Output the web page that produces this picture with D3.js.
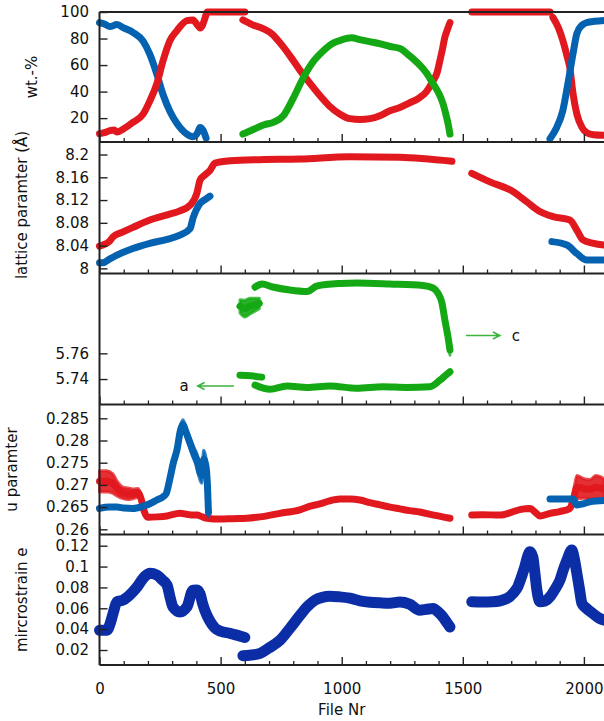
<!DOCTYPE html>
<html>
<head>
<meta charset="utf-8">
<script src="https://cdn.jsdelivr.net/npm/d3@7"></script>
<style>
  body { margin: 0; background: #fff; }
  text { font-family: "DejaVu Sans", Verdana, sans-serif; font-size: 15px; fill: #111; }
</style>
</head>
<body>
<div id="chart"></div>
<script>
// ---- data: [file nr, value, error] ----
var fileMajor = [0, 500, 1000, 1500, 2000];

// wt.-%
var wtBlue1 = [[0,92],[20,91],[43,89],[72,90.5],[100,88],[139,84.5],[180,78],[208,68],[237,53],[262,38],[291,25],[320,16],[361,8],[386,6],[405,9],[415,13],[427,11],[440,5]];
var wtRed1 = [[0,8.3],[20,9],[43,10.5],[60,11],[72,9.5],[100,12],[138,16.8],[180,23],[208,33],[237,46],[262,63],[291,78.5],[320,86],[361,93.5],[386,94],[405,90],[415,88],[425,90],[435,95],[445,100],[500,100],[560,100],[600,100]];
var wtRed2 = [[592,94],[630,90.5],[675,87.5],[715,83],[753,75],[790,66],[828,56],[870,46],[910,37],[950,29],[993,23],[1034,19.6],[1075,19],[1117,19.6],[1160,22],[1199,25.6],[1240,28],[1280,31.5],[1322,35.5],[1350,40],[1377,48],[1395,55],[1405,63],[1416,72],[1426,81],[1437,87],[1447,92]];
var wtRed3 = [[1537,100],[1650,100],[1760,100],[1860,100]];
var wtRed4 = [[1872,96],[1895,88],[1913,78.5],[1930,67],[1942,58],[1955,38.5],[1971,23],[1992,13],[2012,9],[2040,7.5],[2083,7]];
var wtBlue2 = [[1860,4.5],[1885,12],[1913,25.7],[1934,46],[1955,68.6],[1971,83.8],[1992,90],[2012,92],[2045,93],[2083,93.6]];
var wtGreen = [[592,8],[630,11],[680,15],[720,17],[760,22],[800,35],[840,50],[880,62],[920,70],[960,76],[1000,79],[1040,80.5],[1080,79],[1120,77.5],[1160,76],[1200,74],[1240,72.5],[1280,67],[1322,60],[1350,54],[1377,46],[1400,39],[1418,31],[1430,23],[1439,16],[1447,8]];

// lattice parameter (cubic)
var latRed1 = [[0,8.039],[14,8.041],[40,8.047],[56,8.0555],[97,8.064],[138,8.072],[208,8.085],[279,8.094],[332,8.101],[374,8.111],[402,8.132],[415,8.155],[435,8.164],[456,8.172],[477,8.185],[539,8.189],[663,8.191],[828,8.192],[1032,8.196],[1240,8.195],[1455,8.188]];
var latBlue1 = [[0,8.0097],[14,8.0097],[40,8.016],[72,8.0233],[138,8.035],[208,8.044],[279,8.051],[332,8.0585],[374,8.070],[386,8.088],[415,8.114],[440,8.122],[456,8.127]];
var latRed2 = [[1537,8.167],[1612,8.152],[1707,8.135],[1764,8.117],[1818,8.100],[1872,8.091],[1942,8.085],[1971,8.067],[1996,8.05],[2040,8.044],[2083,8.041]];
var latBlue2 = [[1868,8.047],[1930,8.041],[1971,8.026],[2012,8.0145],[2083,8.0145]];

// lattice parameter (tetragonal): a on the left axis, c on a right axis
var latA1 = [[580,5.743],[625,5.7425],[670,5.7415]];
var latA2 = [[642,5.7353],[704,5.732],[774,5.7346],[857,5.7335],[951,5.7346],[1063,5.7328],[1170,5.734],[1269,5.7335],[1364,5.734],[1405,5.739],[1430,5.743],[1447,5.7457]];
var latC1 = [[580,9.41,0.014],[600,9.405,0.018],[620,9.41,0.017],[640,9.413,0.014],[660,9.416,0.011]];
var latC2 = [[642,9.451,0.005],[671,9.4576,0.003],[716,9.4511],[786,9.4447],[857,9.4415],[898,9.4533],[993,9.4586],[1063,9.4597],[1199,9.4576],[1335,9.4544],[1377,9.449],[1397,9.4383,0.004],[1414,9.417,0.009],[1426,9.3806,0.013],[1439,9.3443,0.013],[1447,9.3165,0.011]];

// u parameter
var uBlue1 = [[0,0.2647],[40,0.265],[72,0.265],[100,0.2648],[138,0.2647],[180,0.2652],[210,0.2658],[237,0.2666],[262,0.2673],[275,0.268,0.0004],[291,0.2715,0.0008],[305,0.275,0.001],[320,0.2779,0.0011],[335,0.2825,0.0011],[345,0.2836,0.0011],[355,0.2822,0.0011],[374,0.2794,0.0012],[390,0.277,0.0014],[402,0.2756,0.0015],[415,0.2727,0.0017],[423,0.2722,0.0018],[430,0.2758,0.002],[440,0.274,0.002],[446,0.2695,0.002],[450,0.2638,0.001]];
var uBlue2 = [[1860,0.2668],[1900,0.2668],[1955,0.2668],[1971,0.2655],[2000,0.2658],[2025,0.2662],[2083,0.2665]];
var uRed1 = [[0,0.2708,0.0024],[30,0.2708,0.0024],[55,0.2703,0.0022],[72,0.2692,0.0017],[97,0.2682,0.0013],[120,0.268,0.0013],[138,0.268,0.0011],[160,0.2682,0.001],[172,0.2668,0.0008],[185,0.264,0.0005],[200,0.2627,0.0003],[240,0.2628],[279,0.263],[332,0.2636],[360,0.2634],[386,0.2632],[402,0.2632],[425,0.2628],[444,0.2625],[497,0.2623],[550,0.2624],[609,0.2625],[663,0.2628],[745,0.2636],[828,0.2644],[870,0.2652],[910,0.2657],[950,0.2664],[993,0.2668],[1034,0.2668],[1075,0.2666],[1117,0.266],[1158,0.2655],[1200,0.265],[1240,0.2646],[1280,0.2642],[1322,0.2639],[1380,0.2632],[1447,0.2625]];
var uRed2 = [[1537,0.2632],[1580,0.2633],[1653,0.2632],[1700,0.2638],[1740,0.2645],[1777,0.2647],[1800,0.2638],[1818,0.263],[1860,0.2636],[1900,0.264],[1942,0.2647],[1960,0.2675,0.002],[1971,0.2695,0.0026],[2000,0.2692,0.0022],[2025,0.269,0.0022],[2050,0.2695,0.0026],[2083,0.269,0.0024]];

// microstrain
var msNavy1 = [[0,0.0389],[31,0.039],[45,0.046],[56,0.055],[72,0.0662],[97,0.0678],[138,0.0758],[160,0.082],[180,0.0887],[208,0.0935],[237,0.0918],[260,0.087],[279,0.0822],[292,0.07],[303,0.0613],[332,0.0565],[361,0.0613],[386,0.0774],[402,0.0775],[415,0.074],[425,0.065],[435,0.058],[455,0.048],[477,0.041],[500,0.038],[539,0.036],[570,0.034],[600,0.032]];
var msNavy2 = [[592,0.0145],[620,0.015],[663,0.0168],[700,0.022],[745,0.0293],[790,0.042],[828,0.0533],[860,0.062],[890,0.0678],[920,0.0705],[951,0.0716],[990,0.071],[1034,0.0697],[1075,0.0672],[1117,0.0658],[1160,0.0652],[1199,0.0649],[1240,0.066],[1280,0.064],[1322,0.0582],[1350,0.059],[1377,0.0598],[1400,0.056],[1418,0.0517],[1435,0.046],[1447,0.0421]];
var msNavy3 = [[1537,0.0662],[1580,0.066],[1624,0.0662],[1682,0.0694],[1710,0.075],[1727,0.0806],[1745,0.092],[1756,0.0998],[1768,0.11],[1777,0.1142],[1789,0.1094],[1797,0.095],[1806,0.0774],[1818,0.0662],[1840,0.067],[1860,0.071],[1880,0.078],[1901,0.087],[1915,0.097],[1930,0.1062],[1950,0.1159],[1960,0.108],[1971,0.0935],[1982,0.078],[1992,0.0646],[2010,0.06],[2037,0.055],[2060,0.051],[2083,0.0486]];

var wtTicks = [20, 40, 60, 80, 100];
var latTicks = [8, 8.04, 8.08, 8.12, 8.16, 8.2];
var tetTicks = [5.74, 5.76];
var uTicks = [0.26, 0.265, 0.27, 0.275, 0.28, 0.285];
var msTicks = [0.02, 0.04, 0.06, 0.08, 0.1, 0.12];

var col = { blue: "#0562b1", red: "#e1191f", green: "#14a914", navy: "#0b2ea6", arrow: "#3cb33c" };

// ---- layout ----
var width = 604, height = 721,
  left = 99.5;

var svg = d3.select("#chart").append("svg")
  .attr("width", width)
  .attr("height", height);

var x = d3.scaleLinear().domain([0, 2083]).range([left, width]);

var panels = [
  { top: 12, bottom: 142, domain: [2, 100], ticks: wtTicks, fmt: d3.format("d"),
    label: "wt.-%", labelX: 37,
    series: [[wtBlue1, "blue"], [wtRed1, "red"], [wtRed2, "red"], [wtRed3, "red"], [wtRed4, "red"], [wtBlue2, "blue"], [wtGreen, "green"]] },
  { top: 142, bottom: 273.5, domain: [7.991, 8.222], ticks: latTicks, fmt: function(d) { return String(+d.toFixed(2)); },
    label: "lattice paramter (Å)", labelX: 27, labelY: 205,
    series: [[latRed1, "red"], [latBlue1, "blue"], [latRed2, "red"], [latBlue2, "blue"]] },
  { top: 273.5, bottom: 404.5, domain: [5.7202, 5.8221], ticks: tetTicks, fmt: d3.format(".2f"),
    series: [[latA1, "green"], [latA2, "green"]],
    right: { domain: [9.20, 9.48], series: [[latC1, "green"], [latC2, "green"]] } },
  { top: 404.5, bottom: 534.5, domain: [0.25883, 0.28811], ticks: uTicks, fmt: function(d) { return String(+d.toFixed(3)); },
    label: "u paramter", labelX: 17,
    series: [[uRed1, "red"], [uBlue1, "blue"], [uRed2, "red"], [uBlue2, "blue"]] },
  { top: 534.5, bottom: 665, domain: [0.00563, 0.13074], ticks: msTicks, fmt: function(d) { return String(+d.toFixed(2)); },
    label: "mircrostrain e", labelX: 27, lineWidth: 11,
    series: [[msNavy1, "navy"], [msNavy2, "navy"], [msNavy3, "navy"]] }
];

var minorTicks = d3.range(0, 2100, 100).filter(function(d) { return d % 500 !== 0; });

panels.forEach(function(p, i) {
  var y = d3.scaleLinear().domain(p.domain).range([p.bottom, p.top]);
  var g = svg.append("g").attr("class", "panel");

  drawSeries(g, p.series, y, p.lineWidth || 7);
  if (p.right) {
    var yr = d3.scaleLinear().domain(p.right.domain).range([p.bottom, p.top]);
    drawSeries(g, p.right.series, yr, 7);
  }

  // y axis, ticks pointing inward
  g.append("g")
    .attr("transform", "translate(" + left + ",0)")
    .call(d3.axisLeft(y).tickValues(p.ticks).tickFormat(p.fmt).tickSize(-8).tickPadding(10.5))
    .call(function(a) {
      a.select(".domain").remove();
      a.selectAll("line").attr("stroke", "#222").attr("stroke-width", 1.4);
      a.selectAll("text").attr("fill", "#111").style("font-family", "DejaVu Sans").style("font-size", "15px");
    });

  // x ticks at the bottom of each panel
  var isLast = i === panels.length - 1;
  g.append("g")
    .attr("transform", "translate(0," + p.bottom + ")")
    .call(d3.axisBottom(x).tickValues(minorTicks).tickFormat("").tickSize(-4))
    .call(function(a) {
      a.select(".domain").remove();
      a.selectAll("line").attr("stroke", "#222").attr("stroke-width", 1.3);
    });
  g.append("g")
    .attr("transform", "translate(0," + p.bottom + ")")
    .call(d3.axisBottom(x).tickValues(fileMajor).tickFormat(isLast ? d3.format("d") : "").tickSize(-8).tickPadding(18))
    .call(function(a) {
      a.select(".domain").remove();
      a.selectAll("line").attr("stroke", "#222").attr("stroke-width", 1.4);
      a.selectAll("text").attr("fill", "#111").style("font-family", "DejaVu Sans").style("font-size", "15px");
    });

  // panel bottom line
  g.append("line")
    .attr("x1", left).attr("x2", width)
    .attr("y1", p.bottom).attr("y2", p.bottom)
    .attr("stroke", "#222").attr("stroke-width", 2);

  if (p.label) {
    svg.append("text")
      .attr("transform", "translate(" + p.labelX + "," + (p.labelY || (p.top + p.bottom) / 2) + ") rotate(-90)")
      .attr("text-anchor", "middle")
      .text(p.label);
  }

  p.y = y;
});

// frame: top line and left line
svg.append("line")
  .attr("x1", left).attr("x2", width).attr("y1", panels[0].top).attr("y2", panels[0].top)
  .attr("stroke", "#222").attr("stroke-width", 2);
svg.append("line")
  .attr("x1", left).attr("x2", left).attr("y1", panels[0].top).attr("y2", panels[4].bottom)
  .attr("stroke", "#222").attr("stroke-width", 2);

svg.append("text")
  .attr("x", (left + width) / 2 - 10)
  .attr("y", 715)
  .attr("text-anchor", "middle")
  .text("File Nr");

// arrows telling which axis a and c belong to
var yT = panels[2].y;
arrow(x(555), x(405), yT(5.7346));
arrow(x(1513), x(1653), yT(5.7739));
svg.append("text").attr("x", x(349)).attr("y", yT(5.7346)).attr("dy", "0.35em")
  .attr("text-anchor", "middle").text("a");
svg.append("text").attr("x", x(1719)).attr("y", yT(5.7739)).attr("dy", "0.35em")
  .attr("text-anchor", "middle").text("c");

function arrow(x0, x1, yy) {
  var dir = x1 > x0 ? 1 : -1;
  svg.append("path")
    .attr("d", "M" + x0 + "," + yy + "H" + x1 +
      "M" + (x1 - dir * 7) + "," + (yy - 3.5) + "L" + x1 + "," + yy + "L" + (x1 - dir * 7) + "," + (yy + 3.5))
    .attr("fill", "none")
    .attr("stroke", col.arrow)
    .attr("stroke-width", 1.5);
}

function drawSeries(g, list, y, lw) {
  var line = d3.line()
    .x(function(d) { return x(d[0]); })
    .y(function(d) { return y(d[1]); })
    .curve(d3.curveMonotoneX);
  var band = d3.area()
    .x(function(d) { return x(d[0]); })
    .y0(function(d) { return y(d[1] - (d[2] || 0)); })
    .y1(function(d) { return y(d[1] + (d[2] || 0)); })
    .curve(d3.curveMonotoneX);

  list.forEach(function(s) {
    var data = s[0], c = col[s[1]];
    if (data.some(function(d) { return d[2]; })) {
      g.append("path")
        .attr("d", band(data))
        .attr("fill", c)
        .attr("fill-opacity", 0.9)
        .attr("stroke", c)
        .attr("stroke-width", 3)
        .attr("stroke-opacity", 0.75)
        .attr("stroke-linejoin", "round");
    }
    g.append("path")
      .attr("d", line(data))
      .attr("fill", "none")
      .attr("stroke", c)
      .attr("stroke-width", lw)
      .attr("stroke-linecap", "round")
      .attr("stroke-linejoin", "round");
  });
}
</script>
</body>
</html>
